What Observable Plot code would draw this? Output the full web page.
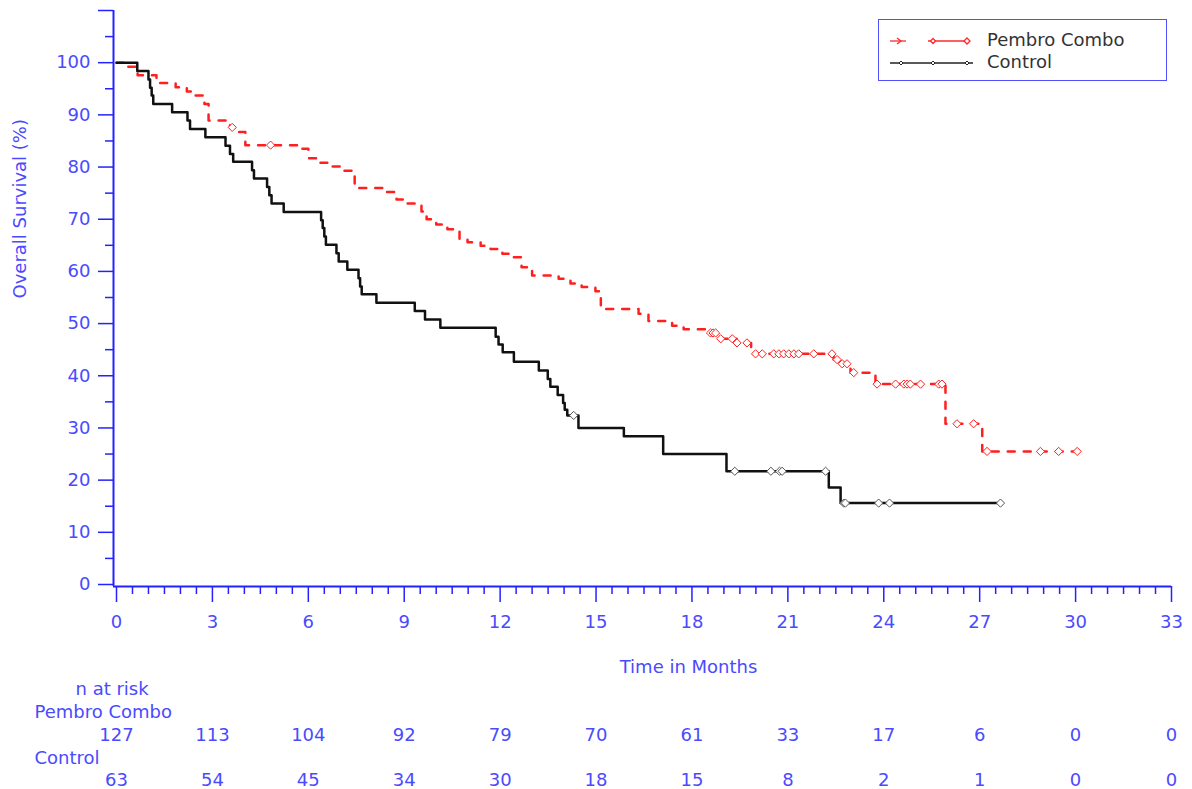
<!DOCTYPE html>
<html>
<head>
<meta charset="utf-8">
<script src="https://cdn.jsdelivr.net/npm/d3@7"></script>
<script src="https://cdn.jsdelivr.net/npm/@observablehq/plot@0.6"></script>
<style>
  body { margin: 0; background: #fff; }
  #chart { position: relative; width: 1192px; height: 789px; }
  #legend {
    position: absolute; left: 878px; top: 19px; width: 287px; height: 60px;
    border: 1.5px solid #5050ff; background: #fff;
    font-family: "DejaVu Sans", sans-serif; font-size: 18px; color: #333;
  }
  #legend svg { position: absolute; left: 0; top: 0; }
  #legend .lbl { position: absolute; left: 108px; line-height: 20px; }
</style>
</head>
<body>
<div id="chart"><div id="legend">
  <svg width="100" height="60">
    <g stroke="#ff2a2a" stroke-width="1.3" fill="#fff">
      <line x1="11" y1="21" x2="27" y2="21"/>
      <line x1="49" y1="21" x2="89" y2="21"/>
      <path d="M18,18 L22,21 L18,24" fill="none"/>
      <path d="M54,18.5 L56.5,21 L54,23.5 L51.5,21 Z"/>
      <path d="M88,18 L91,21 L88,24 L85,21 Z"/>
    </g>
    <g stroke="#222" stroke-width="1.5" fill="#fff">
      <line x1="11" y1="43" x2="94" y2="43"/>
      <path d="M22,41 L24,43 L22,45 L20,43 Z" stroke-width="1"/>
      <path d="M54,41 L56,43 L54,45 L52,43 Z" stroke-width="1"/>
      <path d="M88,41 L90,43 L88,45 L86,43 Z" stroke-width="1"/>
    </g>
  </svg>
  <div class="lbl" style="top:10px">Pembro Combo</div>
  <div class="lbl" style="top:32px">Control</div>
</div></div>
<script>
// Kaplan–Meier overall survival, Pembro Combo vs Control.

// Step points: time (months) of each drop and survival (%) after it.
const pembroTime = [0, 0.34, 0.66, 1.25, 1.85, 2.2, 2.47, 2.75, 2.88, 3.55, 3.8, 4.03, 5.8, 6.0, 6.38, 6.72, 7.1, 7.45, 8.4, 8.76, 9.1, 9.54, 9.7, 10.0, 10.35, 10.73, 10.98, 11.39, 11.7, 12.07, 12.42, 12.67, 13.0, 13.83, 14.2, 14.55, 14.98, 15.15, 16.33, 16.64, 17.38, 17.74, 18.6, 18.83, 19.4, 19.85, 22.43, 22.65, 22.96, 23.74, 25.93, 27.08, 30.05];
const pembroSurv = [100, 99.2, 97.6, 96.1, 95.3, 94.5, 93.7, 92.1, 88.9, 87.6, 86.7, 84.2, 83.5, 81.7, 80.8, 80.1, 79.3, 76.0, 75.2, 73.8, 73.0, 71.5, 70.0, 69.0, 68.1, 66.2, 65.6, 64.9, 64.3, 63.4, 62.7, 60.8, 59.2, 58.6, 57.7, 57.0, 56.2, 52.8, 51.9, 50.5, 49.6, 48.9, 48.2, 47.1, 46.3, 44.2, 43.1, 42.3, 40.6, 38.4, 30.8, 25.5, 25.5];

const controlTime = [0, 0.65, 1.0, 1.05, 1.1, 1.15, 1.74, 2.22, 2.3, 2.78, 3.41, 3.55, 3.65, 4.24, 4.3, 4.71, 4.78, 4.85, 5.23, 6.4, 6.45, 6.5, 6.55, 6.88, 6.95, 7.22, 7.57, 7.62, 7.67, 8.13, 9.33, 9.65, 10.13, 11.86, 11.95, 12.08, 12.43, 13.21, 13.49, 13.57, 13.8, 13.97, 14.02, 14.1, 14.45, 15.87, 17.1, 19.08, 22.28, 22.65, 27.65];
const controlSurv = [100, 98.4, 96.8, 95.2, 93.7, 92.1, 90.5, 88.9, 87.3, 85.7, 84.1, 82.5, 81.0, 79.4, 77.8, 76.2, 74.6, 73.0, 71.4, 69.8, 68.3, 66.7, 65.1, 63.5, 61.9, 60.3, 58.7, 57.1, 55.6, 54.0, 52.4, 50.8, 49.2, 47.5, 46.0, 44.5, 42.7, 41.0, 39.4, 37.9, 36.3, 34.8, 33.5, 32.4, 30.0, 28.4, 25.0, 21.7, 18.6, 15.6, 15.6];

// Censored observations (tick marks on the curves).
const pembroCensorTime = [3.62, 4.82, 18.58, 18.66, 18.74, 18.9, 19.26, 19.41, 19.72, 19.99, 20.2, 20.56, 20.72, 20.87, 21.03, 21.19, 21.34, 21.81, 22.38, 22.54, 22.7, 22.85, 23.06, 23.79, 24.37, 24.63, 24.73, 24.83, 25.15, 25.72, 25.82, 26.29, 26.81, 27.23, 28.9, 29.47, 30.05];
const pembroCensorSurv = [87.6, 84.2, 48.2, 48.2, 48.2, 47.1, 47.1, 46.3, 46.3, 44.2, 44.2, 44.2, 44.2, 44.2, 44.2, 44.2, 44.2, 44.2, 44.2, 43.1, 42.3, 42.3, 40.6, 38.4, 38.4, 38.4, 38.4, 38.4, 38.4, 38.4, 38.4, 30.8, 30.8, 25.5, 25.5, 25.5, 25.5];

const controlCensorTime = [14.3, 19.34, 20.47, 20.74, 20.82, 22.18, 22.75, 22.8, 23.84, 24.18, 27.65];
const controlCensorSurv = [32.4, 21.7, 21.7, 21.7, 21.7, 21.7, 15.6, 15.6, 15.6, 15.6, 15.6];

// Number at risk table.
const riskTimes = [0, 3, 6, 9, 12, 15, 18, 21, 24, 27, 30, 33];
const pembroAtRisk = [127, 113, 104, 92, 79, 70, 61, 33, 17, 6, 0, 0];
const controlAtRisk = [63, 54, 45, 34, 30, 18, 15, 8, 2, 1, 0, 0];

// Axis ticks.
const xMajor = d3.range(0, 34, 3);
const xMinor = d3.range(0, 33.01, 0.5).filter(d => d % 3 !== 0);
const yMajor = d3.range(0, 111, 10);
const yMinor = d3.range(5, 110, 10);

const zip = (t, s) => t.map((d, i) => ({t: d, s: s[i]}));
const pembro = zip(pembroTime, pembroSurv);
const control = zip(controlTime, controlSurv);
const pembroCens = zip(pembroCensorTime, pembroCensorSurv);
const controlCens = zip(controlCensorTime, controlCensorSurv);

const AXIS = "#2323ff";
const TEXT = "#4a4aff";
const RED = "#ff1f1f";

const chart = Plot.plot({
  width: 1192,
  height: 789,
  marginLeft: 113,
  marginRight: 21,
  marginTop: 10,
  marginBottom: 203,
  insetLeft: 3,
  insetBottom: 2,
  style: {fontFamily: "DejaVu Sans, sans-serif", fontSize: "18px", background: "white", overflow: "visible"},
  x: {domain: [0, 33]},
  y: {domain: [0, 110]},
  marks: [
    // axis lines
    Plot.ruleX([0], {dx: -3, stroke: AXIS, strokeWidth: 2}),
    Plot.ruleY([0], {dy: 2, stroke: AXIS, strokeWidth: 2}),
    Plot.axisY(yMajor, {tickSize: 15, tickPadding: 8, stroke: AXIS, strokeWidth: 1.5, fill: TEXT,
      tickFormat: d => d <= 100 ? String(d) : "", label: null}),
    Plot.axisY(yMinor, {tickSize: 8, stroke: AXIS, strokeWidth: 1.5, tickFormat: () => "", label: null}),
    Plot.axisX(xMajor, {tickSize: 16, tickPadding: 13, stroke: AXIS, strokeWidth: 1.5, fill: TEXT, label: null}),
    Plot.axisX(xMinor, {tickSize: 8, stroke: AXIS, strokeWidth: 1.5, tickFormat: () => "", label: null}),
    // axis titles
    Plot.text(["Overall Survival (%)"], {frameAnchor: "left", rotate: -90, dx: -93, fill: TEXT, text: d => d}),
    Plot.text(["Time in Months"], {frameAnchor: "bottom", dx: 46, dy: 86, fill: TEXT, text: d => d}),
    // survival curves
    Plot.line(pembro, {x: "t", y: "s", curve: "step-after", stroke: RED, strokeWidth: 2.5, strokeDasharray: "7,9"}),
    Plot.dot(pembroCens, {x: "t", y: "s", symbol: "diamond2", r: 3.7, stroke: RED, strokeWidth: 1, fill: "white"}),
    Plot.line(control, {x: "t", y: "s", curve: "step-after", stroke: "#111", strokeWidth: 2.5}),
    Plot.dot(controlCens, {x: "t", y: "s", symbol: "diamond2", r: 3.7, stroke: "#555", strokeWidth: 1, fill: "white"}),
    // number at risk table
    Plot.text(["n at risk"], {frameAnchor: "bottom-left", textAnchor: "start", dx: -38, dy: 108, fill: TEXT, text: d => d}),
    Plot.text(["Pembro Combo"], {frameAnchor: "bottom-left", textAnchor: "start", dx: -79, dy: 131, fill: TEXT, text: d => d}),
    Plot.text(riskTimes, {x: d => d, frameAnchor: "bottom", dy: 154, fill: TEXT, text: (d, i) => String(pembroAtRisk[i])}),
    Plot.text(["Control"], {frameAnchor: "bottom-left", textAnchor: "start", dx: -79, dy: 177, fill: TEXT, text: d => d}),
    Plot.text(riskTimes, {x: d => d, frameAnchor: "bottom", dy: 199, fill: TEXT, text: (d, i) => String(controlAtRisk[i])})
  ]
});

document.getElementById("chart").prepend(chart);
</script>
</body>
</html>
